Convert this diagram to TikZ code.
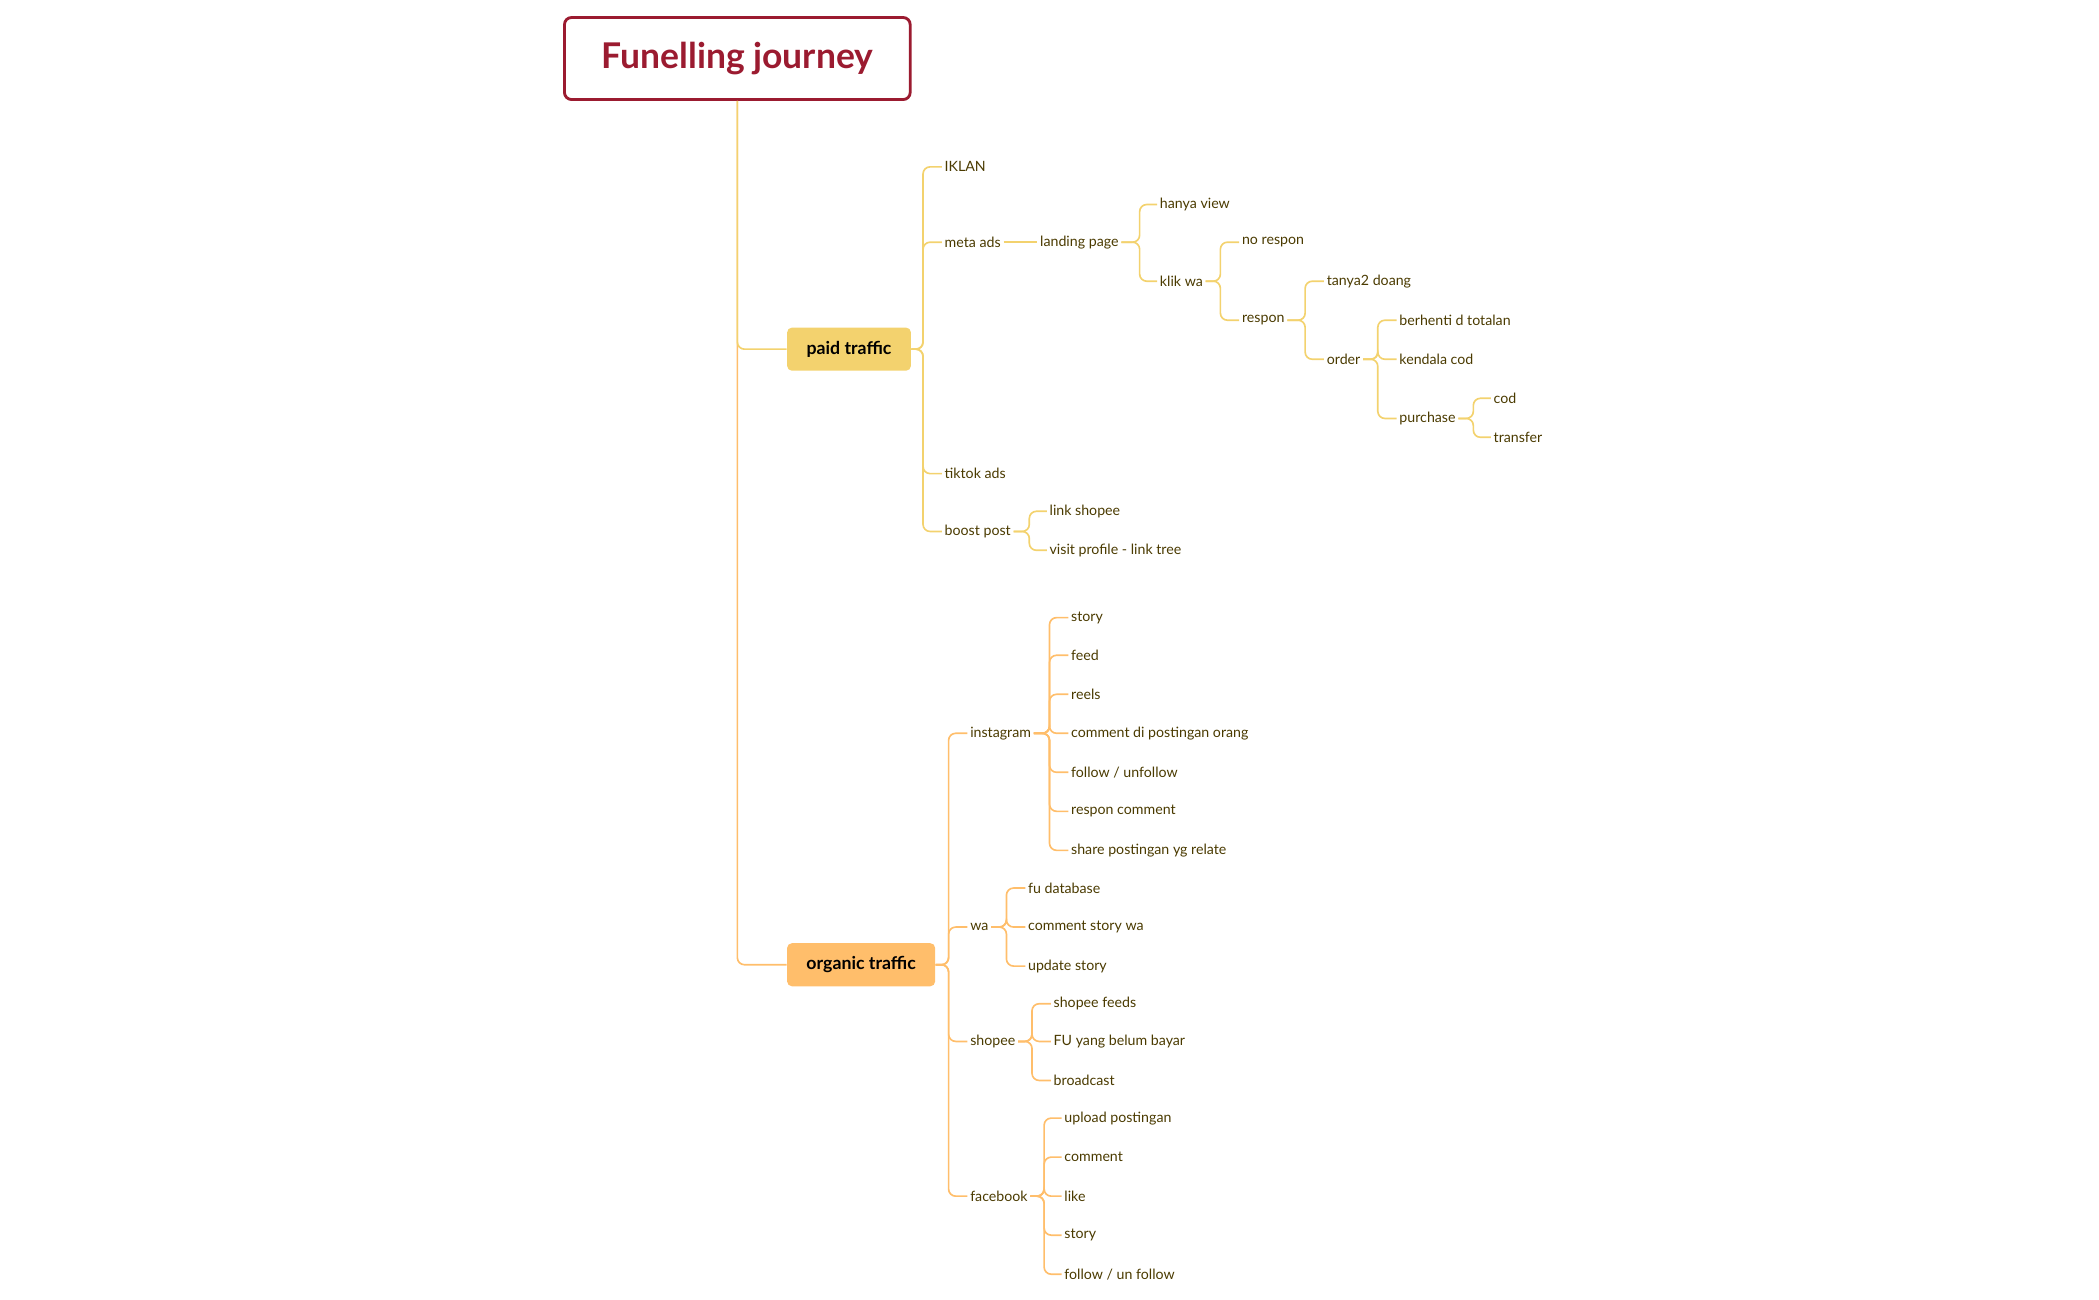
\documentclass[tikz,border=0pt]{standalone}
\usepackage{fontspec}
\setmainfont{Lato}
\usetikzlibrary{positioning,calc}
\definecolor{titlered}{HTML}{9B1B30}
\definecolor{paidc}{HTML}{F3D26E}
\definecolor{orgc}{HTML}{FFBE6B}
\definecolor{leafc}{HTML}{4A3A00}
\begin{document}
\begin{tikzpicture}[x=0.02cm,y=-0.02cm]
\tikzstyle{leaf}=[anchor=west,inner sep=1pt,text=leafc,font=\fontsize{6}{7}\selectfont]
\tikzstyle{topic}=[rounded corners=2pt,minimum height=0.64cm,inner sep=0pt,font=\fontsize{7.5}{9}\selectfont\bfseries]
\tikzstyle{pline}=[draw=paidc,line width=0.7pt,rounded corners=3pt]
\tikzstyle{oline}=[draw=orgc,line width=0.7pt,rounded corners=3pt]
\useasboundingbox (0,0) rectangle (1560,966);
\node[draw=titlered,line width=1.2pt,rounded corners=3pt,minimum width=5.14cm,minimum height=1.22cm,text=titlered,font=\fontsize{15}{18}\selectfont\bfseries](title) at (548,43.5){Funelling journey};
\node[topic,fill=paidc,minimum width=1.84cm](paid) at (631,259.5){paid traffic};
\node[topic,fill=orgc,minimum width=2.2cm](organic) at (640,717){organic traffic};
\draw[oline] (title.south) |- (organic.west);
\draw[pline] (title.south) |- (paid.west);
% paid traffic
\node[leaf](iklan) at (700,124){IKLAN};
\node[leaf](meta) at (700,180){meta ads};
\node[leaf](tiktok) at (700,352){tiktok ads};
\node[leaf](boost) at (700,395){boost post};
\coordinate(s1) at (686,0);
\foreach \c in {iklan,meta,tiktok,boost}
  \draw[pline] (paid.east) -- (paid.east -| s1) |- (\c.west);
\node[leaf](landing) at (771,180){landing page};
\draw[pline] (meta.east) -- ++(7,0) -- (landing.west);
\node[leaf](hanya) at (860,152){hanya view};
\node[leaf](klik) at (860,209){klik wa};
\coordinate(s2) at (847,0);
\foreach \c in {hanya,klik}
  \draw[pline] (landing.east) -- (landing.east -| s2) |- (\c.west);
\node[leaf](norespon) at (921,180){no respon};
\node[leaf](respon) at (921,238){respon};
\coordinate(s3) at (907,0);
\foreach \c in {norespon,respon}
  \draw[pline] (klik.east) -- (klik.east -| s3) |- (\c.west);
\node[leaf](tanya) at (984,209){tanya2 doang};
\node[leaf](order) at (984,267){order};
\coordinate(s4) at (970,0);
\foreach \c in {tanya,order}
  \draw[pline] (respon.east) -- (respon.east -| s4) |- (\c.west);
\node[leaf](berhenti) at (1038,238){berhenti d totalan};
\node[leaf](kendala) at (1038,267){kendala cod};
\node[leaf](purchase) at (1038,311){purchase};
\coordinate(s5) at (1024,0);
\foreach \c in {berhenti,kendala,purchase}
  \draw[pline] (order.east) -- (order.east -| s5) |- (\c.west);
\node[leaf](cod) at (1108,296){cod};
\node[leaf](transfer) at (1108,325){transfer};
\coordinate(s6) at (1095,0);
\foreach \c in {cod,transfer}
  \draw[pline] (purchase.east) -- (purchase.east -| s6) |- (\c.west);
\node[leaf](linkshopee) at (778,380){link shopee};
\node[leaf](visit) at (778,409){visit profile - link tree};
\coordinate(s7) at (765,0);
\foreach \c in {linkshopee,visit}
  \draw[pline] (boost.east) -- (boost.east -| s7) |- (\c.west);
% organic traffic
\node[leaf](insta) at (719,545){instagram};
\node[leaf](wa) at (719,689){wa};
\node[leaf](shopee) at (719,774){shopee};
\node[leaf](fb) at (719,889){facebook};
\coordinate(o1) at (705,0);
\foreach \c in {insta,wa,shopee,fb}
  \draw[oline] (organic.east) -- (organic.east -| o1) |- (\c.west);
\coordinate(o2) at (780,0);
\foreach \n/\t/\y in {i1/{story}/459,i2/{feed}/487,i3/{reels}/516,i4/{comment di postingan orang}/545,i5/{follow / unfollow}/574,i6/{respon comment}/603,i7/{share postingan yg relate}/632}{
  \node[leaf](\n) at (794,\y){\t};
  \draw[oline] (insta.east) -- (insta.east -| o2) |- (\n.west);
}
\coordinate(o3) at (748,0);
\foreach \n/\t/\y in {w1/{fu database}/660,w2/{comment story wa}/689,w3/{update story}/718}{
  \node[leaf](\n) at (762,\y){\t};
  \draw[oline] (wa.east) -- (wa.east -| o3) |- (\n.west);
}
\coordinate(o4) at (767,0);
\foreach \n/\t/\y in {p1/{shopee feeds}/746,p2/{FU yang belum bayar}/774,p3/{broadcast}/803}{
  \node[leaf](\n) at (781,\y){\t};
  \draw[oline] (shopee.east) -- (shopee.east -| o4) |- (\n.west);
}
\coordinate(o5) at (776,0);
\foreach \n/\t/\y in {f1/{upload postingan}/831,f2/{comment}/860,f3/{like}/889,f4/{story}/918,f5/{follow / un follow}/947}{
  \node[leaf](\n) at (789,\y){\t};
  \draw[oline] (fb.east) -- (fb.east -| o5) |- (\n.west);
}
\end{tikzpicture}
\end{document}
